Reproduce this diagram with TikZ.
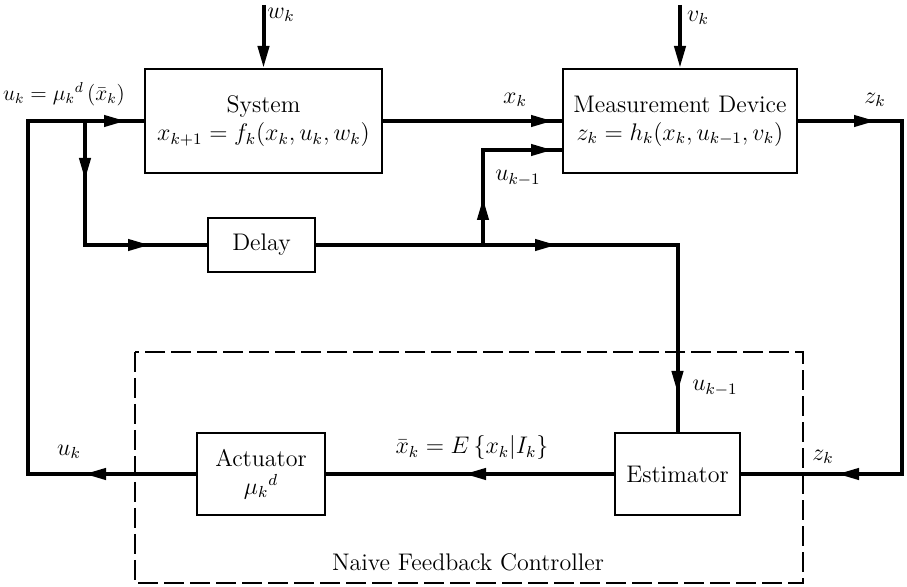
\documentclass[tikz,border=0pt]{standalone}
\usepackage{amsmath,amssymb}
\usepackage{tikz}
\usetikzlibrary{arrows.meta,decorations.markings}

\begin{document}
\begin{tikzpicture}[x=0.5pt,y=-0.5pt,font=\large,
  blk/.style={draw,line width=1pt,align=center},
  flow/.style={line width=2pt},
  tip/.style={-{Triangle[length=11pt,width=5.5pt]}},
  am/.style={postaction={decorate},decoration={markings,
    mark=at position #1 with {\arrow{Triangle[length=11pt,width=5.5pt]}}}},
  amm/.style n args={2}{postaction={decorate},decoration={markings,
    mark=at position #1 with {\arrow{Triangle[length=11pt,width=5.5pt]}},
    mark=at position #2 with {\arrow{Triangle[length=11pt,width=5.5pt]}}}}]
\useasboundingbox (0,0) rectangle (907,587);
\node[blk,minimum width=118.5pt,minimum height=52pt] (sys) at (263.5,121) {System\\$x_{k+1} = f_k(x_k, u_k, w_k)$};
\node[blk,minimum width=117pt,minimum height=52pt] (md) at (680,121) {Measurement Device\\$z_k = h_k(x_k, u_{k-1}, v_k)$};
\node[blk,minimum width=53.5pt,minimum height=27pt] (dl) at (261.5,245) {Delay};
\node[blk,minimum width=64pt,minimum height=41pt] (act) at (261,474) {Actuator\\${\mu_k}^{d}$};
\node[blk,minimum width=62.5pt,minimum height=41pt] (est) at (677.5,474) {Estimator};
\draw[line width=1.2pt,dash pattern=on 10pt off 3pt] (135,352) rectangle (803,583);
\node (nfc) at (468,562) {Naive Feedback Controller};
\coordinate (lc) at (28,300);
\coordinate (rc) at (902,300);
\coordinate (j0) at (85,121);
\coordinate (j1) at (483,245);
\coordinate (ub) at (483,150);
\coordinate (win) at (263.5,5);
\coordinate (vin) at (680,5);
\draw[flow,tip] (win) -- (sys.north);
\draw[flow,tip] (vin) -- (md.north);
\draw[flow,amm={56pt}{309.5pt}] (act.west) -| (lc) |- (sys.west);
\draw[flow,amm={29.5pt}{94.5pt}] (j0) |- (dl.west);
\draw[flow,am=85pt] (sys.east) -- (sys.east -| md.west);
\draw[flow,amm={120.5pt}{254.75pt}] (dl.east) -| (est.north);
\draw[flow,amm={23.5pt}{82.5pt}] (j1) -- (ub) -- (ub -| md.west);
\draw[flow,amm={39pt}{261pt}] (md.east) -| (rc) |- (est.east);
\draw[flow,am=75pt] (est.west) -- (act.east);
\node (lw) at (281,15) {$w_k$};
\node (lv) at (698,18) {$v_k$};
\node[inner sep=0pt,scale=0.9] (lu) at (64,94) {$u_k = {\mu_k}^{d}\,(\bar{x}_k)$};
\node (lx) at (515,100) {$x_k$};
\node (lu1) at (518,178) {$u_{k-1}$};
\node (lz) at (875,100) {$z_k$};
\node (lu2) at (715,388) {$u_{k-1}$};
\node (lz2) at (823,457) {$z_k$};
\node (lxb) at (472,448) {$\bar{x}_k = E\left\{x_k | I_k\right\}$};
\node (lu3) at (69,452) {$u_k$};
\end{tikzpicture}
\end{document}
